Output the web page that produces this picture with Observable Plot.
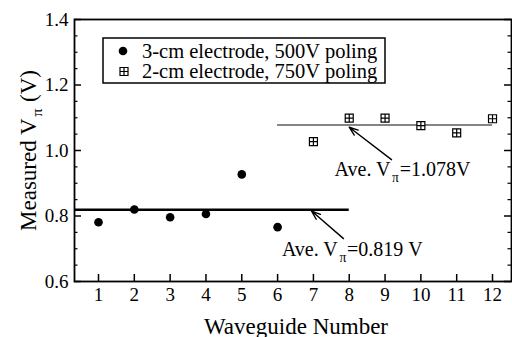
<!DOCTYPE html>
<html>
<head>
<meta charset="utf-8">
<script src="https://cdn.jsdelivr.net/npm/d3@7"></script>
<script src="https://cdn.jsdelivr.net/npm/@observablehq/plot@0.6"></script>
<style>
  html, body { margin: 0; padding: 0; background: #fff; }
  #chart svg { display: block; }
</style>
</head>
<body>
<div id="chart"></div>
<script>
// ---- data ----
const waveguide3cm = [1, 2, 3, 4, 5, 6];
const vpi3cm = [0.781, 0.820, 0.796, 0.806, 0.927, 0.766];
const waveguide2cm = [7, 8, 9, 10, 11, 12];
const vpi2cm = [1.027, 1.099, 1.099, 1.076, 1.054, 1.097];
const avg3cm = 0.819;
const avg2cm = 1.078;
const avg3cmSpan = [0.33, 8];
const avg2cmSpan = [6, 12];
const xTicks = [1, 2, 3, 4, 5, 6, 7, 8, 9, 10, 11, 12];
const yTicks = [0.6, 0.8, 1.0, 1.2, 1.4];
const yMinorTicks = [0.65, 0.7, 0.75, 0.85, 0.9, 0.95, 1.05, 1.1, 1.15, 1.25, 1.3, 1.35];
const legendLabels = ["3-cm electrode, 500V poling", "2-cm electrode, 750V poling"];
const annotationLabels = ["Ave. Vπ=1.078V", "Ave. Vπ=0.819 V"];
const annotationAnchors = [[7.59, 0.921], [6.12, 0.678]];
const arrowStarts = [[9.18, 0.972], [7.84, 0.731]];
const arrowEnds = [[8.0, 1.071], [6.95, 0.815]];
const xLabel = "Waveguide Number";
const yLabel = "Measured Vπ (V)";

// ---- layout ----
const W = 512, H = 337, mL = 74, mR = 1, mT = 19, mB = 56;
const xDomain = [0.33, 12.53];
const yDomain = [0.6, 1.4];
const pxX = (W - mL - mR) / (xDomain[1] - xDomain[0]);
const pxY = (H - mT - mB) / (yDomain[1] - yDomain[0]);
const majorLen = 7, minorLen = 3.5;
const serif = "'Liberation Serif', 'Times New Roman', 'DejaVu Serif', serif";

const pts3 = waveguide3cm.map((x, i) => ({x, y: vpi3cm[i]}));
const pts2 = waveguide2cm.map((x, i) => ({x, y: vpi2cm[i]}));
const arrows = arrowStarts.map((s, i) => ({x1: s[0], y1: s[1], x2: arrowEnds[i][0], y2: arrowEnds[i][1]}));
const notes = annotationLabels.map((t, i) => ({t, x: annotationAnchors[i][0], y: annotationAnchors[i][1]}));

const boxPlus = {
  draw(context, size) {
    const h = Math.sqrt(size / Math.PI);
    context.moveTo(-h, -h); context.lineTo(h, -h); context.lineTo(h, h); context.lineTo(-h, h); context.closePath();
    context.moveTo(-h, 0); context.lineTo(h, 0);
    context.moveTo(0, -h); context.lineTo(0, h);
  }
};

const chart = Plot.plot({
  width: W, height: H,
  marginLeft: mL, marginRight: mR, marginTop: mT, marginBottom: mB,
  style: {fontFamily: serif, background: "white", color: "black", overflow: "visible"},
  x: {domain: xDomain},
  y: {domain: yDomain},
  marks: [
    Plot.axisX(xTicks, {tickSize: 0, tickPadding: 6, fontSize: 19, tickFormat: d => String(d), label: null}),
    Plot.axisY(yTicks, {tickSize: 0, tickPadding: 6, fontSize: 19, tickFormat: d3.format(".1f"), label: null}),
    Plot.ruleX(xTicks, {y1: yDomain[0], y2: yDomain[0] + majorLen / pxY, strokeWidth: 1.5}),
    Plot.ruleY(yTicks, {x1: xDomain[0], x2: xDomain[0] + majorLen / pxX, strokeWidth: 1.5}),
    Plot.ruleY(yMinorTicks, {x1: xDomain[0], x2: xDomain[0] + minorLen / pxX, strokeWidth: 1.2}),
    Plot.ruleY(yTicks, {x1: xDomain[1] - majorLen / pxX, x2: xDomain[1], strokeWidth: 1.5}),
    Plot.ruleY(yMinorTicks, {x1: xDomain[1] - minorLen / pxX, x2: xDomain[1], strokeWidth: 1.2}),
    Plot.frame({strokeWidth: 1.8}),
    Plot.ruleY([avg3cm], {x1: avg3cmSpan[0], x2: avg3cmSpan[1], stroke: "black", strokeWidth: 2.6}),
    Plot.ruleY([avg2cm], {x1: avg2cmSpan[0], x2: avg2cmSpan[1], stroke: "#858585", strokeWidth: 2}),
    Plot.dot(pts3, {x: "x", y: "y", r: 4.3, fill: "black", stroke: "none"}),
    Plot.dot(pts2, {x: "x", y: "y", r: 4, symbol: boxPlus, fill: "white", stroke: "black", strokeWidth: 1.2}),
    Plot.arrow(arrows, {x1: "x1", y1: "y1", x2: "x2", y2: "y2", stroke: "black", strokeWidth: 1.4, headLength: 10, headAngle: 40}),
    Plot.text(notes, {x: "x", y: "y", text: "t", textAnchor: "start", lineAnchor: "bottom", fontSize: 20, fill: "black"}),
    Plot.text([yLabel], {frameAnchor: "left", rotate: -90, textAnchor: "middle", lineAnchor: "bottom", dx: -39, fontSize: 23, fill: "black"}),
    Plot.text([xLabel], {frameAnchor: "bottom", textAnchor: "middle", lineAnchor: "bottom", dy: 52, dx: 3, fontSize: 23, fill: "black"})
  ]
});

document.getElementById("chart").appendChild(chart);
const svg = d3.select(chart.tagName.toLowerCase() === "svg" ? chart : chart.querySelector("svg"));

// subscript pi
svg.selectAll("text").each(function () {
  const s = this.textContent;
  const i = s.indexOf("π");
  if (i < 0) return;
  const fs = parseFloat(getComputedStyle(this).fontSize) || 20;
  const sh = fs * 0.28;
  const sel = d3.select(this);
  sel.text(null);
  sel.append("tspan").text(s.slice(0, i));
  sel.append("tspan").attr("dx", fs * 0.08).attr("dy", sh).style("font-size", (fs * 0.68) + "px").text("π");
  sel.append("tspan").attr("dx", fs * 0.04).attr("dy", -sh).text(s.slice(i + 1));
});

// legend
const lg = svg.append("g");
lg.append("rect").attr("x", 103).attr("y", 38).attr("width", 282).attr("height", 45)
  .attr("fill", "white").attr("stroke", "black").attr("stroke-width", 1.5);
lg.append("circle").attr("cx", 123).attr("cy", 51).attr("r", 4.3).attr("fill", "black");
lg.append("path").attr("transform", "translate(124,71.5)")
  .attr("d", d3.symbol(boxPlus, Math.PI * 16)())
  .attr("fill", "white").attr("stroke", "black").attr("stroke-width", 1.2);
lg.selectAll("text.lbl").data(legendLabels).join("text").attr("class", "lbl")
  .attr("x", 142).attr("y", (d, i) => 57.5 + i * 20)
  .style("font-family", serif).style("font-size", "20.5px").style("text-anchor", "start")
  .attr("fill", "black").text(d => d);
</script>
</body>
</html>
